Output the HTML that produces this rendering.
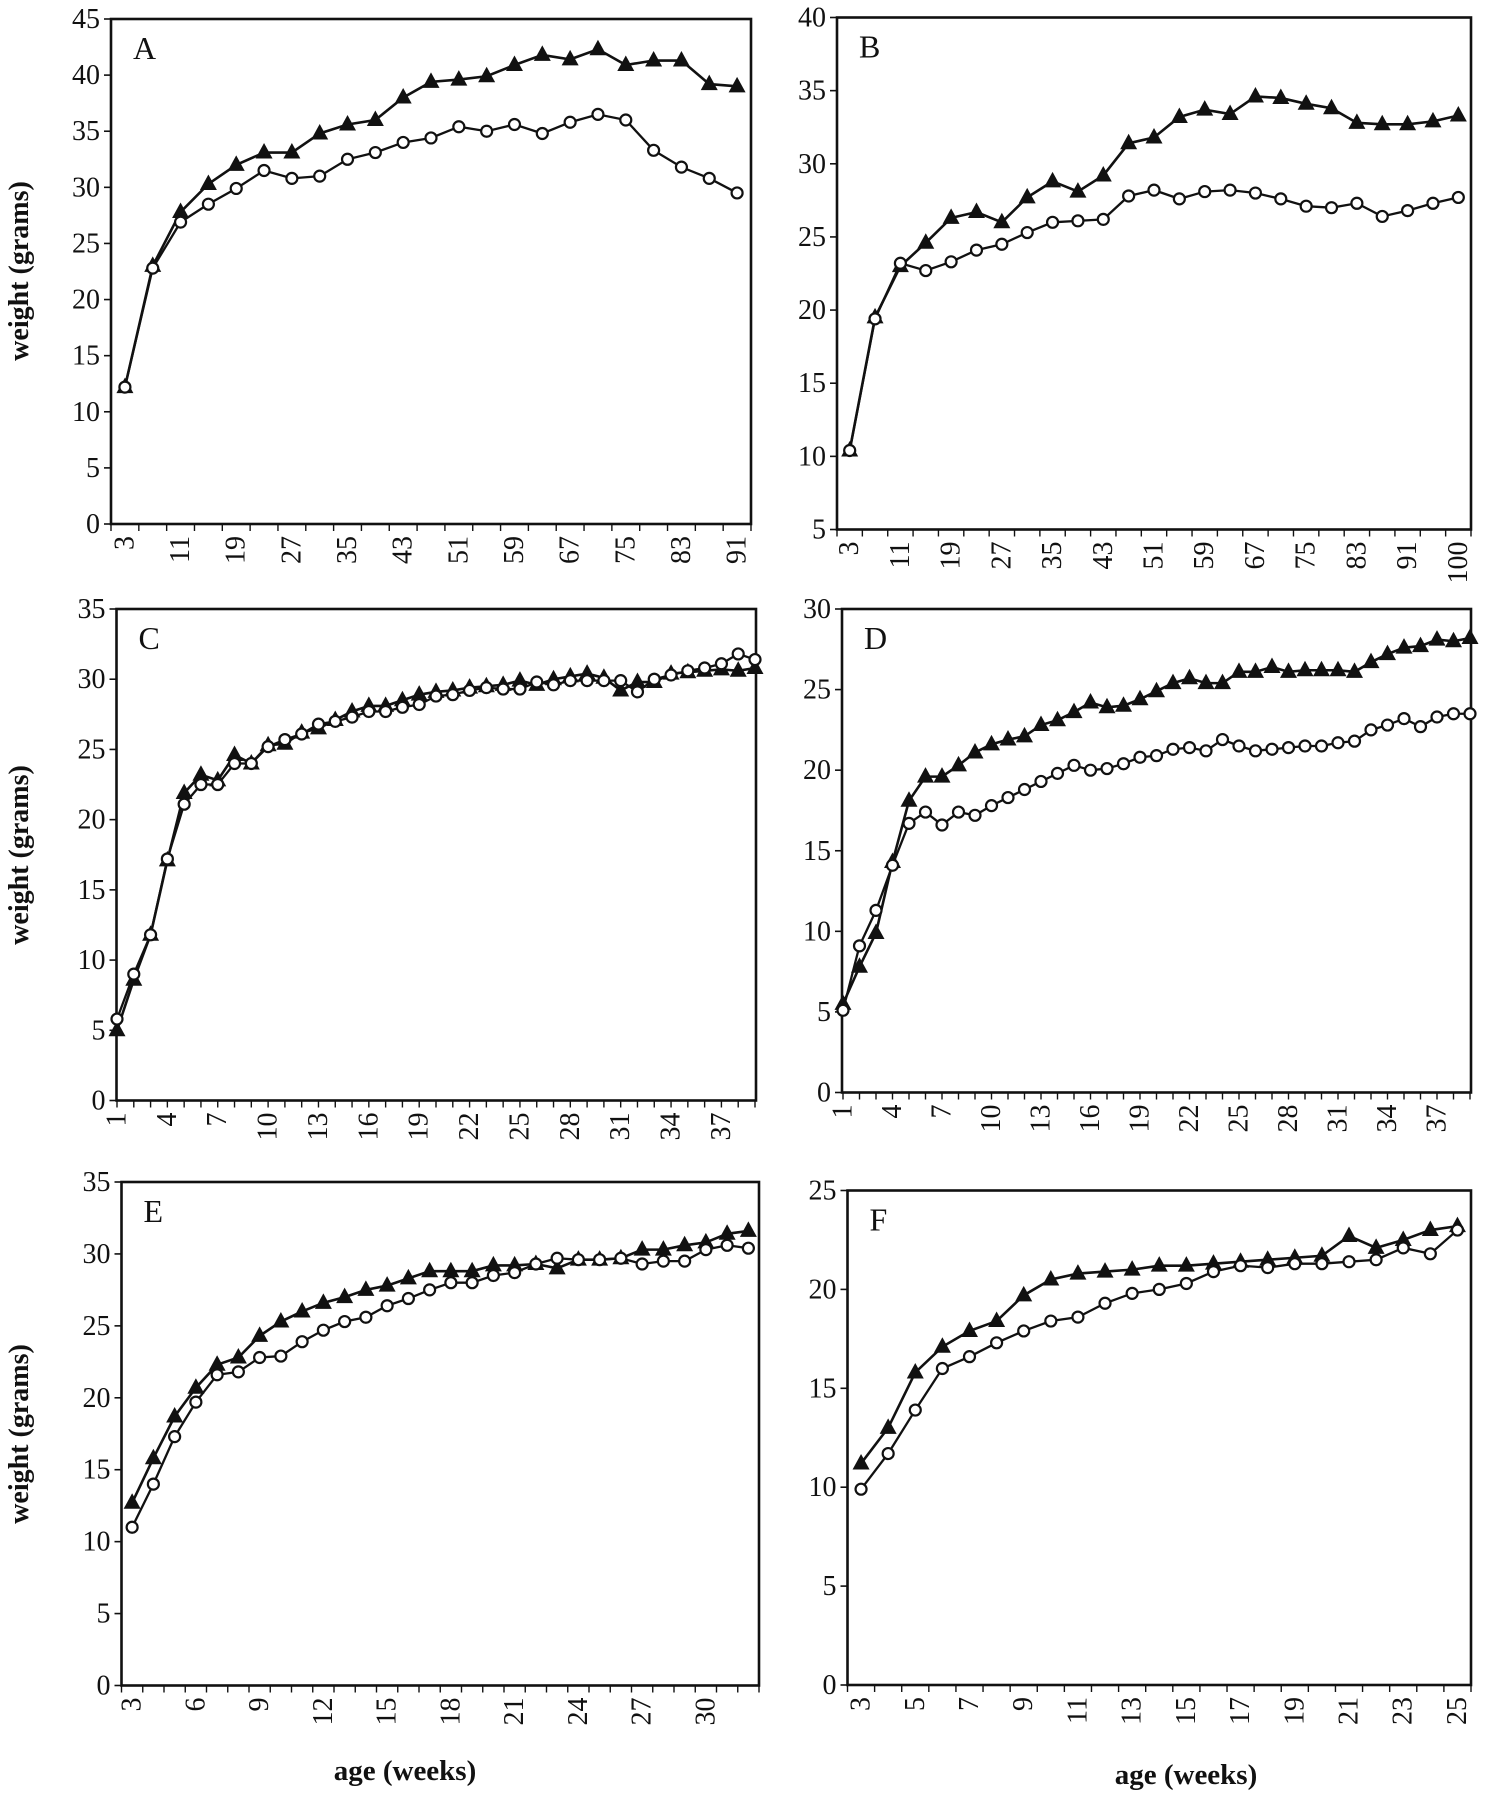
<!DOCTYPE html>
<html><head><meta charset="utf-8"><style>
html,body{margin:0;padding:0;background:#fff}
svg{display:block}
text{font-family:"Liberation Serif",serif;fill:#111}
</style></head><body>
<svg id="fig" width="1487" height="1800" viewBox="0 0 1487 1800" xmlns="http://www.w3.org/2000/svg">
<text x="0" y="0" transform="translate(28,271) rotate(-90)" text-anchor="middle" font-size="28" font-weight="bold">weight (grams)</text>
<text x="0" y="0" transform="translate(28,855) rotate(-90)" text-anchor="middle" font-size="28" font-weight="bold">weight (grams)</text>
<text x="0" y="0" transform="translate(28,1434) rotate(-90)" text-anchor="middle" font-size="28" font-weight="bold">weight (grams)</text>
<text x="405" y="1780" text-anchor="middle" font-size="29" font-weight="bold">age (weeks)</text>
<text x="1186" y="1784" text-anchor="middle" font-size="29" font-weight="bold">age (weeks)</text>
</svg>
<script>
// Panel A
const aWeeks=[3,7,11,15,19,23,27,31,35,39,43,47,51,55,59,63,67,71,75,79,83,87,91];
const aTri=[12.2,23,27.8,30.3,32,33.1,33.1,34.8,35.6,36,38,39.4,39.6,39.9,40.9,41.8,41.4,42.3,40.9,41.3,41.3,39.2,39];
const aCirc=[12.2,22.8,26.9,28.5,29.9,31.5,30.8,31,32.5,33.1,34,34.4,35.4,35,35.6,34.8,35.8,36.5,36,33.3,31.8,30.8,29.5];
const aTicks=[0,5,10,15,20,25,30,35,40,45];
// Panel B
const bWeeks=[3,7,11,15,19,23,27,31,35,39,43,47,51,55,59,63,67,71,75,79,83,87,91,95,100];
const bTri=[10.4,19.5,23,24.6,26.3,26.7,26,27.7,28.8,28.1,29.2,31.4,31.8,33.2,33.7,33.4,34.6,34.5,34.1,33.8,32.8,32.7,32.7,32.9,33.3];
const bCirc=[10.4,19.4,23.2,22.7,23.3,24.1,24.5,25.3,26,26.1,26.2,27.8,28.2,27.6,28.1,28.2,28,27.6,27.1,27,27.3,26.4,26.8,27.3,27.7];
const bTicks=[5,10,15,20,25,30,35,40];
// Panel C
const cWeeks=[1,2,3,4,5,6,7,8,9,10,11,12,13,14,15,16,17,18,19,20,21,22,23,24,25,26,27,28,29,30,31,32,33,34,35,36,37,38,39];
const cTri=[5,8.6,11.8,17.1,21.9,23.2,22.8,24.6,24,25.3,25.4,26.2,26.5,27.1,27.7,28.1,28.1,28.5,28.9,29.1,29.2,29.4,29.5,29.6,29.9,29.6,30,30.2,30.4,30.1,29.2,29.8,29.8,30.4,30.5,30.6,30.7,30.6,30.8];
const cCirc=[5.8,9,11.8,17.2,21.1,22.5,22.5,24,24,25.2,25.7,26.1,26.8,27,27.3,27.7,27.7,28,28.2,28.8,28.9,29.2,29.4,29.3,29.3,29.8,29.6,29.9,29.9,29.9,29.9,29.1,30,30.3,30.6,30.8,31.1,31.8,31.4];
const cTicks=[0,5,10,15,20,25,30,35];
// Panel D
const dWeeks=[1,2,3,4,5,6,7,8,9,10,11,12,13,14,15,16,17,18,19,20,21,22,23,24,25,26,27,28,29,30,31,32,33,34,35,36,37,38,39];
const dTri=[5.5,7.8,9.9,14.3,18.1,19.6,19.6,20.3,21.1,21.6,21.9,22.1,22.8,23.1,23.6,24.2,23.9,24,24.4,24.9,25.4,25.7,25.4,25.4,26.1,26.1,26.4,26.1,26.2,26.2,26.2,26.1,26.7,27.2,27.6,27.7,28.1,28,28.2];
const dCirc=[5.1,9.1,11.3,14.1,16.7,17.4,16.6,17.4,17.2,17.8,18.3,18.8,19.3,19.8,20.3,20,20.1,20.4,20.8,20.9,21.3,21.4,21.2,21.9,21.5,21.2,21.3,21.4,21.5,21.5,21.7,21.8,22.5,22.8,23.2,22.7,23.3,23.5,23.5];
const dTicks=[0,5,10,15,20,25,30];
// Panel E
const eWeeks=[3,4,5,6,7,8,9,10,11,12,13,14,15,16,17,18,19,20,21,22,23,24,25,26,27,28,29,30,31,32];
const eTri=[12.7,15.8,18.7,20.7,22.3,22.8,24.3,25.3,26,26.6,27,27.5,27.8,28.3,28.8,28.8,28.8,29.2,29.2,29.3,29,29.6,29.6,29.7,30.3,30.3,30.6,30.8,31.4,31.6];
const eCirc=[11,14,17.3,19.7,21.6,21.8,22.8,22.9,23.9,24.7,25.3,25.6,26.4,26.9,27.5,28,28,28.5,28.7,29.3,29.7,29.6,29.6,29.7,29.3,29.5,29.5,30.3,30.6,30.4];
const eTicks=[0,5,10,15,20,25,30,35];
// Panel F
const fWeeks=[3,4,5,6,7,8,9,10,11,12,13,14,15,16,17,18,19,20,21,22,23,24,25];
const fTri=[11.2,13,15.8,17.1,17.9,18.4,19.7,20.5,20.8,20.9,21,21.2,21.2,21.3,21.4,21.5,21.6,21.7,22.7,22.1,22.5,23,23.2];
const fCirc=[9.9,11.7,13.9,16,16.6,17.3,17.9,18.4,18.6,19.3,19.8,20,20.3,20.9,21.2,21.1,21.3,21.3,21.4,21.5,22.1,21.8,23];
const fTicks=[0,5,10,15,20,25];

const NS='http://www.w3.org/2000/svg';
const svg=document.getElementById('fig');
function mk(tag,attrs,parent){const e=document.createElementNS(NS,tag);for(const k in attrs)e.setAttribute(k,attrs[k]);(parent||svg).appendChild(e);return e;}

const panels=[
 {id:'a',label:'A',weeks:aWeeks,tri:aTri,circ:aCirc,ticks:aTicks,L:111,R:751,T:19,B:524,ymin:0,ymax:45,mode:'band',every:2,lastLabel:true},
 {id:'b',label:'B',weeks:bWeeks,tri:bTri,circ:bCirc,ticks:bTicks,L:837,R:1471,T:17.5,B:529.5,ymin:5,ymax:40,mode:'band',every:2,lastLabel:true},
 {id:'c',label:'C',weeks:cWeeks,tri:cTri,circ:cCirc,ticks:cTicks,L:116.5,R:756,T:609,B:1100.5,ymin:0,ymax:35,mode:'point',every:3,x0:117,x1:755},
 {id:'d',label:'D',weeks:dWeeks,tri:dTri,circ:dCirc,ticks:dTicks,L:842,R:1471,T:609,B:1092.5,ymin:0,ymax:30,mode:'point',every:3,x0:843,x1:1470},
 {id:'e',label:'E',weeks:eWeeks,tri:eTri,circ:eCirc,ticks:eTicks,L:121.5,R:759,T:1182,B:1685.5,ymin:0,ymax:35,mode:'band',every:3},
 {id:'f',label:'F',weeks:fWeeks,tri:fTri,circ:fCirc,ticks:fTicks,L:847.5,R:1471,T:1190.5,B:1685,ymin:0,ymax:25,mode:'band',every:2}
];

panels.forEach(p=>{
 const g=mk('g',{});
 
 
 const n=p.weeks.length;
 const bw=(p.R-p.L)/n;
 const x=i=>p.mode==='band'?p.L+(i+0.5)*bw:p.x0+i*(p.x1-p.x0)/(n-1);
 const y=v=>p.B-(v-p.ymin)/(p.ymax-p.ymin)*(p.B-p.T);
 const frame=mk('rect',{x:p.L,y:p.T,width:p.R-p.L,height:p.B-p.T,fill:'none',stroke:'#111','stroke-width':2.6},g);
 
 
 p.ticks.forEach(v=>{
  mk('line',{x1:p.L-7,x2:p.L,y1:y(v),y2:y(v),stroke:'#111','stroke-width':1.6},g);
  const t=mk('text',{x:p.L-11,y:y(v)+9,'text-anchor':'end','font-size':28},g);
  
  
  t.textContent=v;
 });
 if(p.mode==='band'){for(let i=0;i<=n;i++)mk('line',{x1:p.L+i*bw,x2:p.L+i*bw,y1:p.B,y2:p.B+7,stroke:'#111','stroke-width':1.4},g);}
 else{for(let i=0;i<n;i++)mk('line',{x1:x(i),x2:x(i),y1:p.B,y2:p.B+7,stroke:'#111','stroke-width':1.4},g);}
 p.weeks.forEach((w,i)=>{
  if(i%p.every!==0 && !(p.lastLabel&&i===n-1))return;
  const t=mk('text',{x:0,y:0,transform:`translate(${x(i)},${p.B+12}) rotate(-90)`,'text-anchor':'end','dominant-baseline':'central','font-size':28},g);
  
  
  t.textContent=w;
 });
 const lt=mk('text',{x:p.L+22,y:p.T+40,'font-size':32},g);
 
 
 lt.textContent=p.label;
 const lineT=mk('polyline',{points:p.tri.map((v,i)=>x(i)+','+y(v)).join(' '),fill:'none',stroke:'#111','stroke-width':2.6},g);
 
 
 const lineC=mk('polyline',{points:p.circ.map((v,i)=>x(i)+','+y(v)).join(' '),fill:'none',stroke:'#111','stroke-width':2.3},g);
 
 
 p.tri.forEach((v,i)=>{
  const cx=x(i),cy=y(v);
  const m=mk('polygon',{points:`${cx-8.5},${cy+6} ${cx+8.5},${cy+6} ${cx},${cy-9.5}`,fill:'#111'},g);
  
  
 });
 p.circ.forEach((v,i)=>{
  const m=mk('circle',{cx:x(i),cy:y(v),r:5.5,fill:'#fff',stroke:'#111','stroke-width':2.2},g);
  
  
 });
});
</script>
</body></html>
